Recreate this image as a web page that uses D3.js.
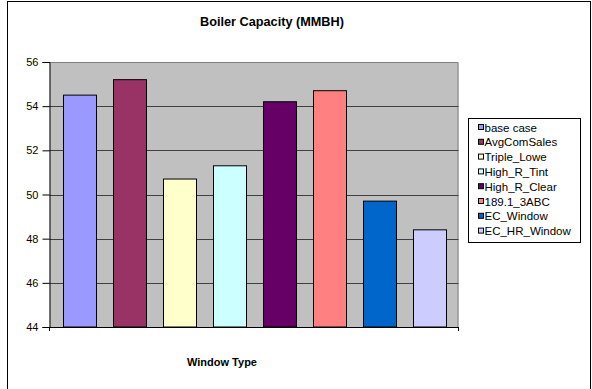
<!DOCTYPE html>
<html><head><meta charset="utf-8">
<script src="https://cdn.jsdelivr.net/npm/d3@7"></script>
<style>body{margin:0;background:#fff}svg{display:block}text{font-family:"Liberation Sans",Arial,sans-serif}</style>
</head><body>
<svg id="c" width="592" height="389"></svg>
<script>
const categories = ["base case","AvgComSales","Triple_Lowe","High_R_Tint","High_R_Clear","189.1_3ABC","EC_Window","EC_HR_Window"];
const values = [54.5, 55.2, 50.7, 51.3, 54.2, 54.7, 49.7, 48.4];
const colors = ["#9999FF","#993366","#FFFFCC","#CCFFFF","#660066","#FF8080","#0066CC","#CCCCFF"];
const yTicks = [44, 46, 48, 50, 52, 54, 56];

const svg = d3.select("#c");
const L = 49.5, R = 458.5, T = 62, B = 327;

svg.append("rect").attr("x",7.5).attr("y",1.5).attr("width",583).attr("height",395)
  .attr("fill","#fff").attr("stroke","#000").attr("stroke-width",1);

const x = d3.scaleBand().domain(categories).range([L, R]).paddingInner(0.34).paddingOuter(0.26);
const y = d3.scaleLinear().domain([44, 56]).range([B, T]);

svg.append("rect").attr("x",L).attr("y",T).attr("width",R-L).attr("height",B-T).attr("fill","#C0C0C0");
svg.append("path").attr("d",`M${L},${T+0.5}H${R-0.5}V${B}`).attr("fill","none").attr("stroke","#808080");

svg.append("g").selectAll("line").data(yTicks.filter(t=>t>44 && t<56)).join("line")
  .attr("x1",L).attr("x2",R).attr("y1",d=>Math.round(y(d))+0.5).attr("y2",d=>Math.round(y(d))+0.5)
  .attr("stroke","#404040").attr("stroke-width",1);

svg.append("g").selectAll("rect").data(categories).join("rect")
  .attr("x",d=>Math.round(x(d))+0.5).attr("width",Math.round(x.bandwidth()))
  .attr("y",(d,i)=>y(values[i])).attr("height",(d,i)=>B-y(values[i]))
  .attr("fill",(d,i)=>colors[i]).attr("stroke","#000").attr("stroke-width",1);

const ya = svg.append("g").attr("transform",`translate(${L},0)`)
  .call(d3.axisLeft(y).tickValues(yTicks).tickSize(7).tickPadding(4).tickFormat(d3.format("d")));
ya.select(".domain").attr("stroke","#000");
ya.selectAll(".tick line").attr("stroke","#000");
ya.selectAll("text").attr("font-size","11px").attr("fill","#000").attr("font-family","Liberation Sans, Arial, sans-serif");

svg.append("line").attr("x1",L).attr("x2",R).attr("y1",B+0.5).attr("y2",B+0.5).attr("stroke","#000");
svg.append("g").selectAll("line").data([L, R]).join("line")
  .attr("x1",d=>d).attr("x2",d=>d).attr("y1",B).attr("y2",B+4).attr("stroke","#000");

svg.append("text").attr("x",272).attr("y",26).attr("text-anchor","middle")
  .attr("font-size","12.7px").attr("font-weight","bold").text("Boiler Capacity (MMBH)");
svg.append("text").attr("x",222).attr("y",366).attr("text-anchor","middle")
  .attr("font-size","11px").attr("font-weight","bold").text("Window Type");

const lg = svg.append("g");
lg.append("rect").attr("x",468.5).attr("y",118.5).attr("width",112).attr("height",124)
  .attr("fill","#fff").attr("stroke","#000");
const items = lg.selectAll("g").data(categories).join("g")
  .attr("transform",(d,i)=>`translate(0,${128 + i*14.8})`);
items.append("rect").attr("x",478.5).attr("y",-3.5).attr("width",5).attr("height",5)
  .attr("fill",(d,i)=>colors[i]).attr("stroke","#000");
items.append("text").attr("x",484.5).attr("y",3.5).attr("font-size","11.5px").text(d=>d);
</script>
</body></html>
